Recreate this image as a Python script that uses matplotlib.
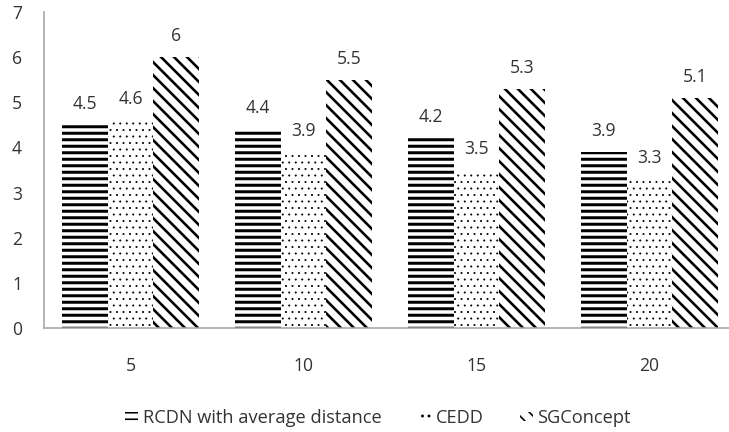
import numpy as np
import matplotlib
matplotlib.use('Agg')
import matplotlib.pyplot as plt

# data
categories = ['5', '10', '15', '20']
rcdn = [4.5, 4.4, 4.2, 3.9]
cedd = [4.6, 3.9, 3.5, 3.3]
sgconcept = [6, 5.5, 5.3, 5.1]
series_names = ['RCDN with average distance', 'CEDD', 'SGConcept']
yticks = [0, 1, 2, 3, 4, 5, 6, 7]

DPI = 117  # chosen so the hatch spacing matches the reference
W, H = 729, 432


def pt(px):
    return px * 72.0 / DPI


plt.rcParams['font.family'] = ['Open Sans', 'DejaVu Sans']

fig = plt.figure(figsize=(W / DPI, H / DPI), dpi=DPI)
ax = fig.add_axes([44 / W, 104 / H, 692 / W, 316 / H])

x = np.arange(len(categories))
w = 0.265
styles = [('---', pt(3.0)), ('...', pt(0.7)), ('\\\\\\', pt(2.6))]
all_bars = []
for i, (vals, (hatch, hlw)) in enumerate(zip([rcdn, cedd, sgconcept], styles)):
    bars = ax.bar(x + (i - 1) * w, vals, w, color='white', edgecolor='black',
                  linewidth=0, hatch=hatch, label=series_names[i])
    for b in bars:
        if hasattr(b, 'set_hatch_linewidth'):
            b.set_hatch_linewidth(hlw)
    all_bars.append(bars)
    for xi, v in zip(x + (i - 1) * w, vals):
        ax.annotate('%g' % v, (xi, v), xytext=(0, pt(12)), textcoords='offset points',
                    ha='center', va='bottom', fontsize=pt(17.5), color='#333333')

ax.set_xlim(-0.5, 3.5)
ax.set_ylim(0, 7)
ax.set_yticks(yticks)
ax.set_xticks(x)
ax.set_xticklabels(categories)
ax.tick_params(axis='both', length=0, labelsize=pt(17.5), colors='#333333')
ax.tick_params(axis='y', pad=pt(22))
ax.tick_params(axis='x', pad=pt(29))
for s in ['top', 'right']:
    ax.spines[s].set_visible(False)
for s in ['left', 'bottom']:
    ax.spines[s].set_color('#a6a6a6')
    ax.spines[s].set_linewidth(pt(1.6))

leg = fig.legend(handles=all_bars, labels=series_names, loc='center',
                 bbox_to_anchor=(378 / W, 1 - 418 / H), ncol=3, frameon=False,
                 fontsize=pt(18.3), handlelength=0.7, handleheight=0.45,
                 handletextpad=0.25, columnspacing=2.0)
for t in leg.get_texts():
    t.set_color('#333333')

fig.savefig('out.png', dpi=DPI)
